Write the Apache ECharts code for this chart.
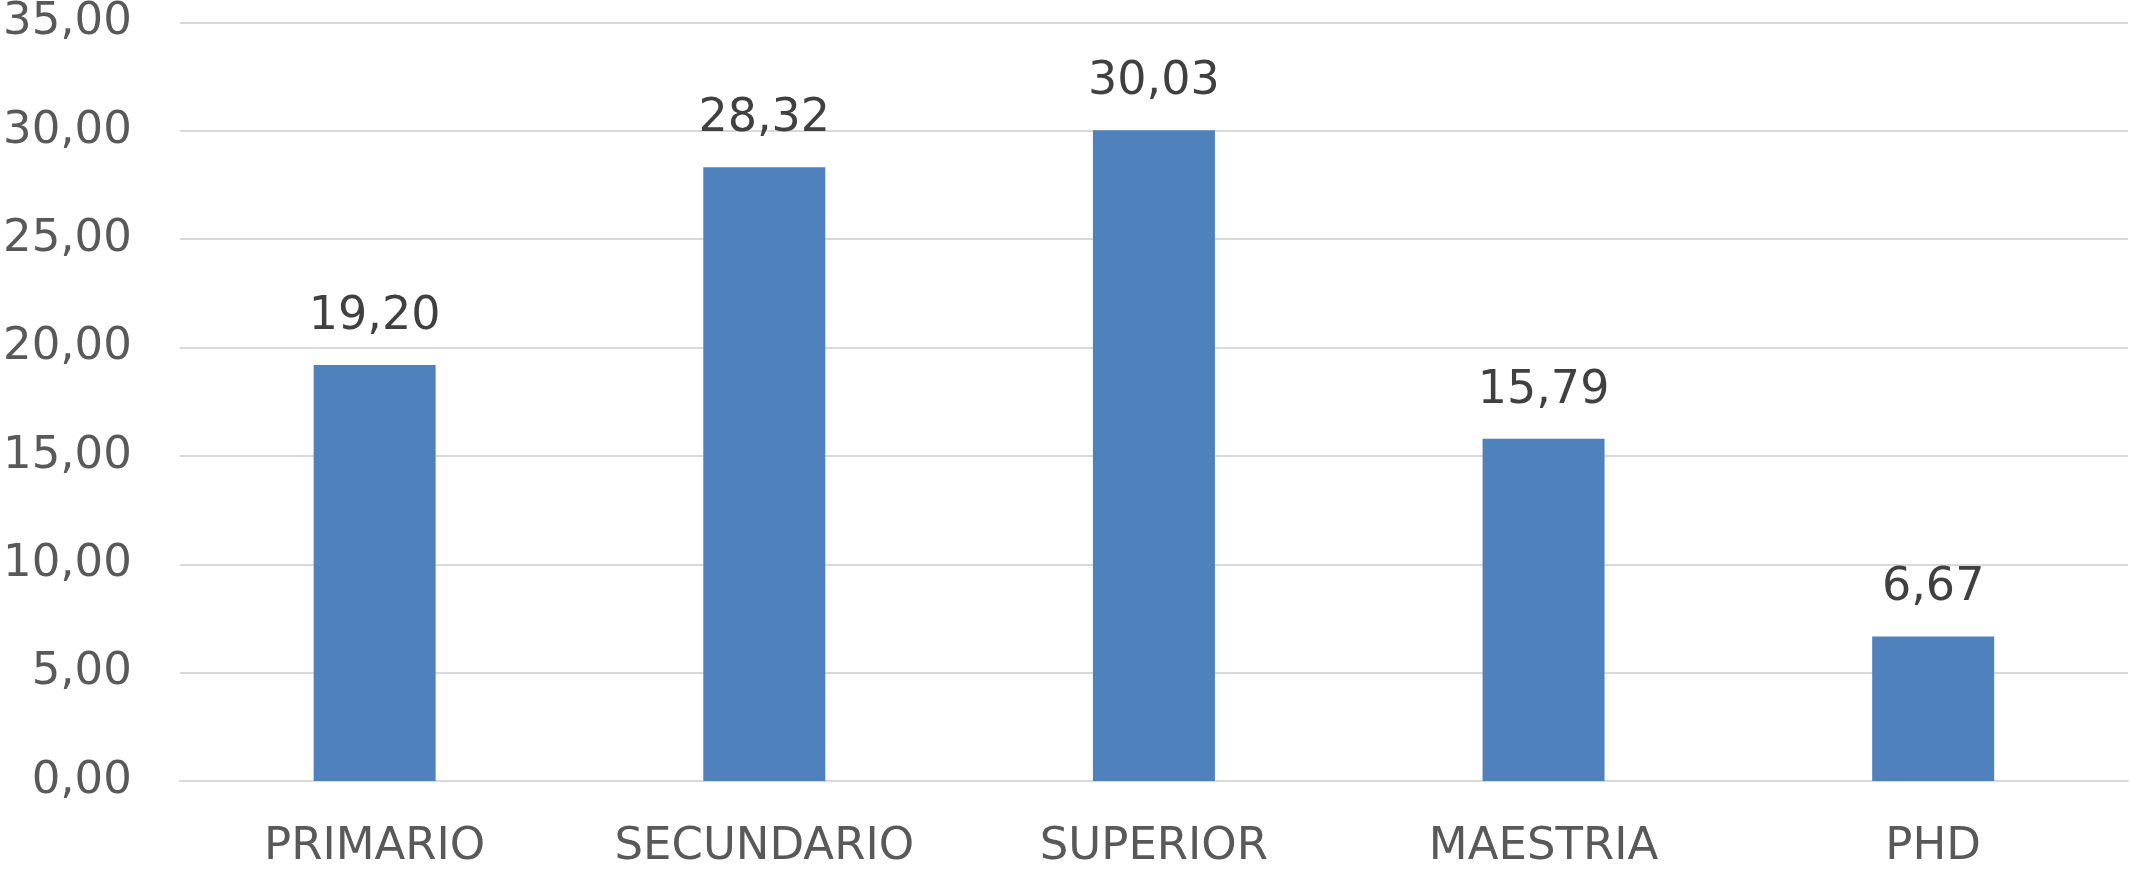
<!DOCTYPE html>
<html>
<head>
<meta charset="utf-8">
<script src="https://cdn.jsdelivr.net/npm/echarts@6/dist/echarts.min.js"></script>
<style>
  html, body { margin: 0; padding: 0; background: #ffffff; }
  #chart { width: 2130px; height: 870px; }
</style>
</head>
<body>
<div id="chart"></div>
<script>
const categories = ['PRIMARIO', 'SECUNDARIO', 'SUPERIOR', 'MAESTRIA', 'PHD'];
const values = [19.20, 28.32, 30.03, 15.79, 6.67];
const yMin = 0;
const yMax = 35;
const yStep = 5;

function fmt(v) { return Number(v).toFixed(2).replace('.', ','); }

const chart = echarts.init(document.getElementById('chart'), null, { renderer: 'canvas' });
chart.setOption({
  animation: false,
  backgroundColor: '#ffffff',
  textStyle: { fontFamily: 'DejaVu Sans' },
  grid: { left: 178, right: 2, top: 22, bottom: 88, containLabel: false },
  xAxis: {
    type: 'category',
    data: categories,
    axisLine: { show: true, lineStyle: { color: '#D9D9D9', width: 2 } },
    axisTick: { show: false },
    axisLabel: { color: '#595959', fontSize: 45, fontFamily: 'DejaVu Sans', margin: 44 }
  },
  yAxis: {
    type: 'value',
    min: yMin,
    max: yMax,
    interval: yStep,
    axisLine: { show: false },
    axisTick: { show: false },
    splitLine: { show: true, lineStyle: { color: '#D9D9D9', width: 2 } },
    axisLabel: { color: '#595959', fontSize: 45, fontFamily: 'DejaVu Sans', margin: 48, formatter: fmt }
  },
  series: [{
    type: 'bar',
    data: values,
    barWidth: 122,
    itemStyle: { color: '#4F81BD' },
    label: {
      show: true,
      position: 'top',
      distance: 25,
      color: '#404040',
      fontSize: 46,
      fontFamily: 'DejaVu Sans',
      formatter: function (p) { return fmt(p.value); }
    }
  }]
});
</script>
</body>
</html>
